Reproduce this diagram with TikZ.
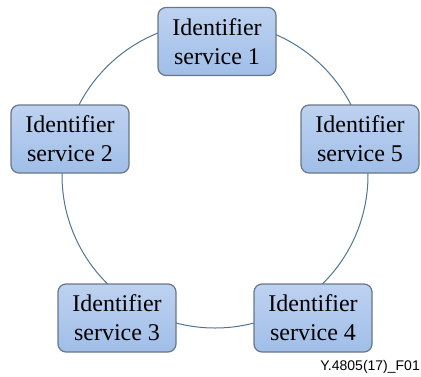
\documentclass[tikz,border=0pt]{standalone}
\usepackage{fontspec}
\setmainfont{Liberation Serif}
\newfontfamily\labelfont{Liberation Sans}
\definecolor{boxtop}{RGB}{190,210,240}
\definecolor{boxbot}{RGB}{160,190,232}
\definecolor{boxline}{RGB}{105,118,135}
\definecolor{ringline}{RGB}{80,118,145}
\tikzset{
  svc/.style={draw=boxline, line width=1.2pt, rounded corners=8pt,
    top color=boxtop, bottom color=boxbot,
    minimum width=118pt, minimum height=68pt, inner sep=0pt,
    align=center, font=\fontsize{24}{29}\selectfont},
  ring/.style={draw=ringline, line width=1pt}
}
\begin{document}
\begin{tikzpicture}[x=1pt,y=-1pt]
\useasboundingbox (0,0) rectangle (421,376);
\coordinate (c) at (215,175);
\draw[ring] (c) circle[radius=153pt];
\node[svc] (s1) at (217,41.5) {Identifier\\service 1};
\node[svc] (s2) at (70,139) {Identifier\\service 2};
\node[svc] (s5) at (360,139) {Identifier\\service 5};
\node[svc] (s3) at (117,318) {Identifier\\service 3};
\node[svc] (s4) at (313,318) {Identifier\\service 4};
\node[anchor=base east, inner sep=0pt, font=\labelfont\fontsize{14}{16}\selectfont] (lbl) at (420,370) {Y.4805(17)\_F01};
\end{tikzpicture}
\end{document}
